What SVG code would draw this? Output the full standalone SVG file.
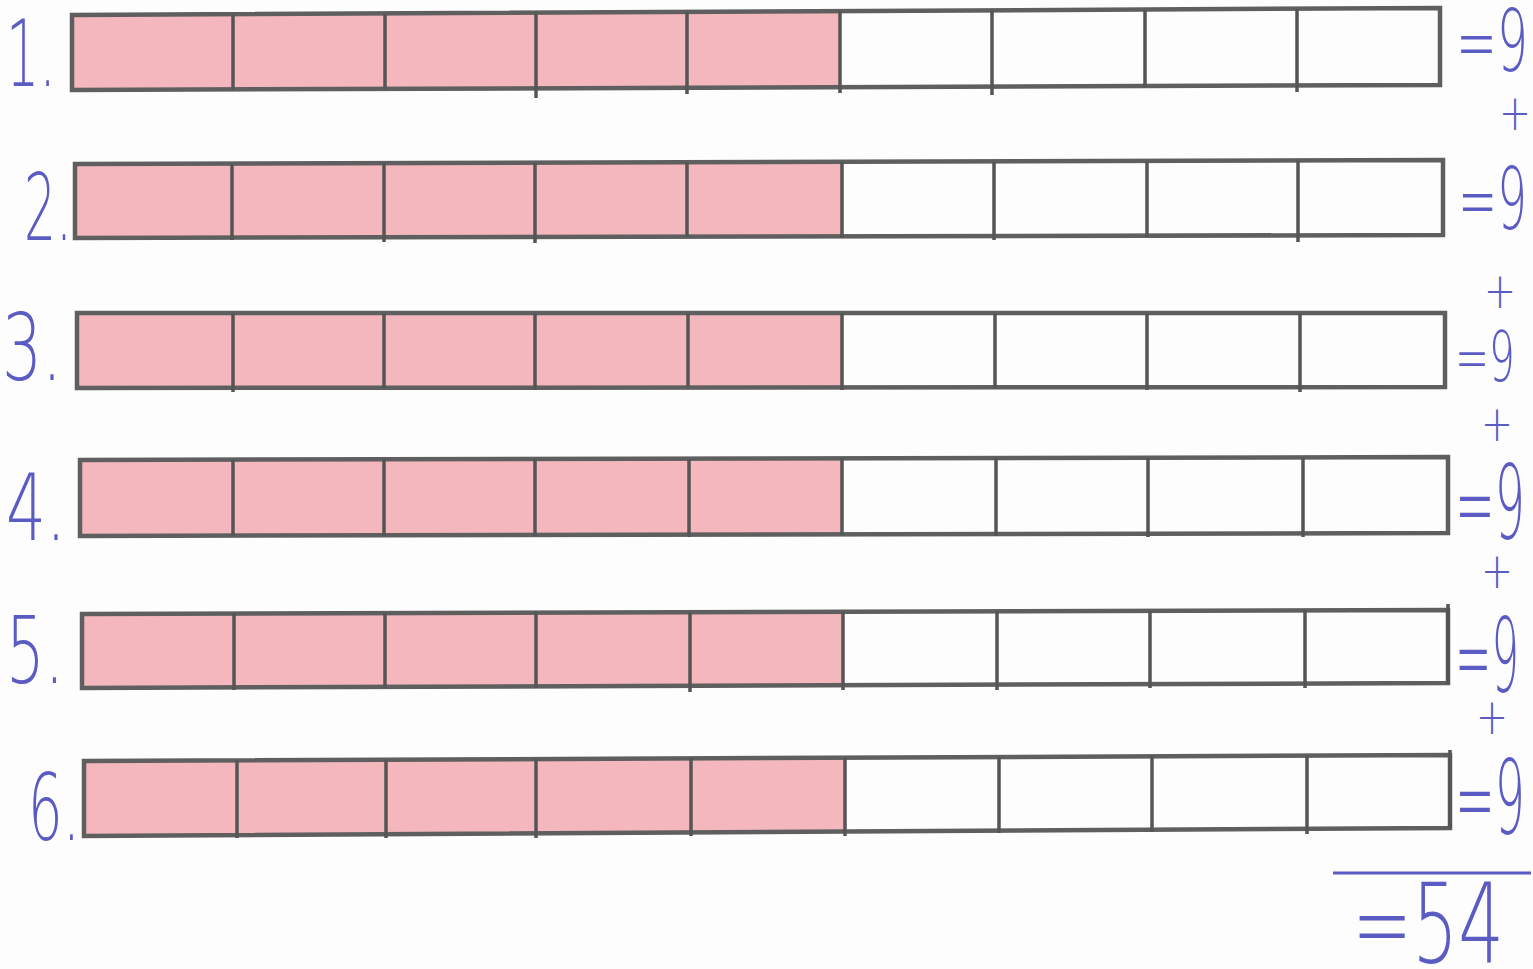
<svg xmlns="http://www.w3.org/2000/svg" width="1533" height="969" viewBox="0 0 1533 969">
<style>
.frame{fill:none;stroke:#5f5f5f;stroke-width:4.5;stroke-linecap:square}
.div{stroke:#555;stroke-width:3.5}
.pink{fill:#ef9fa7;opacity:0.75}
.hand{font-family:"DejaVu Sans","Liberation Sans",sans-serif;font-weight:200;fill:#5b5bc4}
.num{font-size:92px}
.plus{font-size:50px}
</style>
<rect width="1533" height="969" fill="#fdfdfd"/>

<g id="row1">
<polygon class="pink" points="74,15 840,11 840,87 74,90"/>
<polygon class="frame" points="72,15 1440,8 1440,85 72,90"/>
<g class="div"><line x1="233" y1="15" x2="233" y2="90"/><line x1="385" y1="14" x2="385" y2="89"/><line x1="536" y1="13" x2="536" y2="98"/><line x1="687" y1="12" x2="687" y2="94"/><line x1="840" y1="11" x2="840" y2="93"/><line x1="992" y1="10" x2="992" y2="95"/><line x1="1145" y1="10" x2="1145" y2="87"/><line x1="1297" y1="9" x2="1297" y2="92"/></g>
<text class="hand num" x="6" y="86" textLength="50" lengthAdjust="spacingAndGlyphs">1.</text>
<text class="hand" style="font-size:86px" x="1456" y="71" textLength="72" lengthAdjust="spacingAndGlyphs">=9</text>
<text class="hand plus" x="1499" y="130" textLength="32" lengthAdjust="spacingAndGlyphs">+</text>
</g>

<g id="row2">
<polygon class="pink" points="77,164 842,162 842,236 77,238"/>
<polygon class="frame" points="75,164 1443,160 1443,235 75,238"/>
<g class="div"><line x1="232" y1="164" x2="232" y2="240"/><line x1="384" y1="163" x2="384" y2="242"/><line x1="535" y1="163" x2="535" y2="243"/><line x1="687" y1="162" x2="687" y2="237"/><line x1="842" y1="162" x2="842" y2="238"/><line x1="994" y1="162" x2="994" y2="240"/><line x1="1147" y1="161" x2="1147" y2="237"/><line x1="1298" y1="161" x2="1298" y2="242"/></g>
<text class="hand num" x="24" y="240" textLength="48" lengthAdjust="spacingAndGlyphs">2.</text>
<text class="hand" style="font-size:86px" x="1458" y="229" textLength="69" lengthAdjust="spacingAndGlyphs">=9</text>
<text class="hand plus" x="1484" y="308" textLength="32" lengthAdjust="spacingAndGlyphs">+</text>
</g>

<g id="row3">
<polygon class="pink" points="79,313 842,313 842,386 79,388"/>
<polygon class="frame" points="77,313 1445,313 1445,387 77,388"/>
<g class="div"><line x1="233" y1="313" x2="233" y2="392"/><line x1="384" y1="313" x2="384" y2="388"/><line x1="535" y1="313" x2="535" y2="390"/><line x1="688" y1="313" x2="688" y2="387"/><line x1="842" y1="313" x2="842" y2="390"/><line x1="995" y1="313" x2="995" y2="388"/><line x1="1147" y1="313" x2="1147" y2="390"/><line x1="1300" y1="313" x2="1300" y2="392"/></g>
<text class="hand num" x="2" y="380" textLength="60" lengthAdjust="spacingAndGlyphs">3.</text>
<text class="hand" style="font-size:70px" x="1455" y="381" textLength="60" lengthAdjust="spacingAndGlyphs">=9</text>
<text class="hand plus" x="1481" y="441" textLength="32" lengthAdjust="spacingAndGlyphs">+</text>
</g>

<g id="row4">
<polygon class="pink" points="82,460 842,459 842,534 82,536"/>
<polygon class="frame" points="80,460 1448,457 1448,533 80,536"/>
<g class="div"><line x1="233" y1="460" x2="233" y2="536"/><line x1="384" y1="459" x2="384" y2="536"/><line x1="535" y1="459" x2="535" y2="536"/><line x1="689" y1="459" x2="689" y2="537"/><line x1="842" y1="458" x2="842" y2="535"/><line x1="996" y1="458" x2="996" y2="536"/><line x1="1148" y1="458" x2="1148" y2="537"/><line x1="1303" y1="457" x2="1303" y2="537"/></g>
<text class="hand num" x="6" y="540" textLength="60" lengthAdjust="spacingAndGlyphs">4.</text>
<text class="hand" style="font-size:104px" x="1455" y="539" textLength="70" lengthAdjust="spacingAndGlyphs">=9</text>
<text class="hand plus" x="1481" y="588" textLength="32" lengthAdjust="spacingAndGlyphs">+</text>
</g>

<g id="row5">
<polygon class="pink" points="84,614 843,612 843,686 84,688"/>
<polygon class="frame" points="82,614 1448,610 1448,683 82,688"/>
<g class="div"><line x1="234" y1="613" x2="234" y2="690"/><line x1="385" y1="613" x2="385" y2="688"/><line x1="536" y1="612" x2="536" y2="688"/><line x1="690" y1="612" x2="690" y2="692"/><line x1="843" y1="612" x2="843" y2="690"/><line x1="997" y1="611" x2="997" y2="690"/><line x1="1150" y1="611" x2="1150" y2="688"/><line x1="1305" y1="610" x2="1305" y2="688"/></g>
<line class="div" x1="1448" y1="604" x2="1448" y2="684"/>
<text class="hand num" x="6" y="683" textLength="58" lengthAdjust="spacingAndGlyphs">5.</text>
<text class="hand" style="font-size:104px" x="1455" y="692" textLength="64" lengthAdjust="spacingAndGlyphs">=9</text>
<text class="hand plus" x="1476" y="734" textLength="32" lengthAdjust="spacingAndGlyphs">+</text>
</g>

<g id="row6">
<polygon class="pink" points="86,761 845,758 845,832 86,836"/>
<polygon class="frame" points="84,761 1450,755 1450,828 84,836"/>
<g class="div"><line x1="237" y1="760" x2="237" y2="838"/><line x1="386" y1="760" x2="386" y2="838"/><line x1="536" y1="759" x2="536" y2="838"/><line x1="691" y1="758" x2="691" y2="836"/><line x1="845" y1="758" x2="845" y2="836"/><line x1="999" y1="757" x2="999" y2="833"/><line x1="1152" y1="756" x2="1152" y2="832"/><line x1="1307" y1="756" x2="1307" y2="834"/></g>
<line class="div" x1="1450" y1="750" x2="1450" y2="828"/>
<text class="hand num" x="28" y="840" textLength="52" lengthAdjust="spacingAndGlyphs">6.</text>
<text class="hand" style="font-size:104px" x="1455" y="834" textLength="70" lengthAdjust="spacingAndGlyphs">=9</text>
</g>

<g id="total">
<line x1="1333" y1="873" x2="1531" y2="873" stroke="#5b5bc4" stroke-width="3"/>
<text class="hand" style="font-size:110px" x="1352" y="962" textLength="152" lengthAdjust="spacingAndGlyphs">=54</text>
</g>
</svg>
